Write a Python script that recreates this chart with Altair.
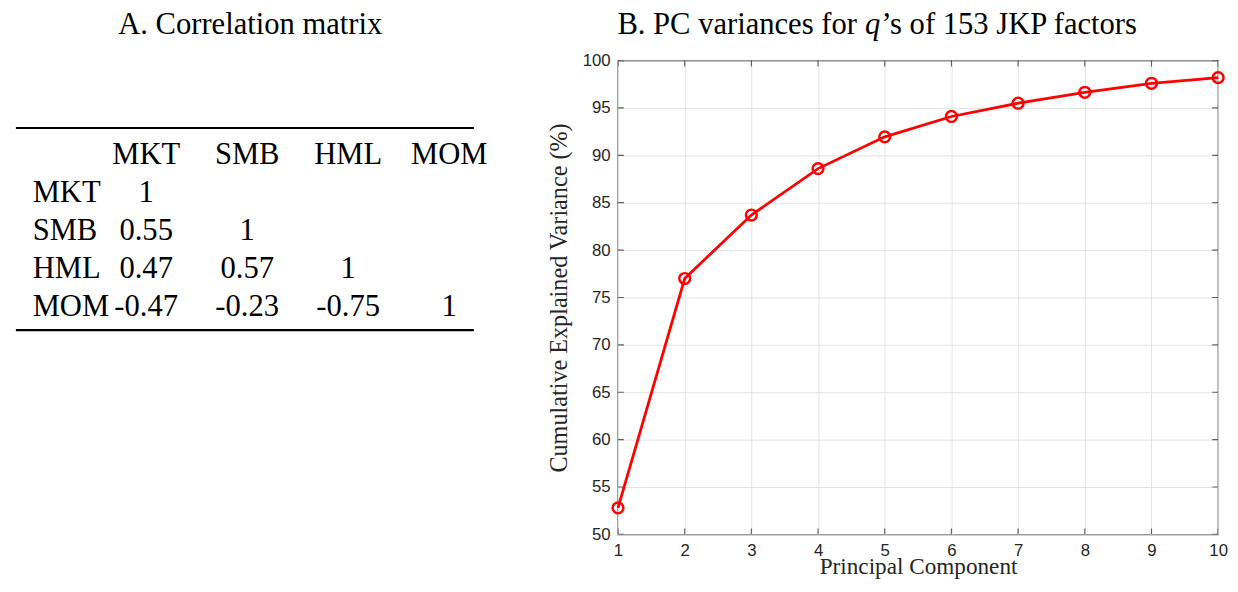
import altair as alt
import pandas as pd

# ---------------- data ----------------
pc = [1, 2, 3, 4, 5, 6, 7, 8, 9, 10]
cum_var = [52.8, 77.0, 83.7, 88.6, 91.95, 94.1, 95.5, 96.65, 97.6, 98.2]
y_ticks = [50, 55, 60, 65, 70, 75, 80, 85, 90, 95, 100]

factors = ["MKT", "SMB", "HML", "MOM"]
row_mkt = ["1", "", "", ""]
row_smb = ["0.55", "1", "", ""]
row_hml = ["0.47", "0.57", "1", ""]
row_mom = ["-0.47", "-0.23", "-0.75", "1"]

title_a = "A. Correlation matrix"
title_b_pre = "B. PC variances for"
title_b_q = "q"
title_b_post = "\u2019s of 153 JKP factors"
x_title = "Principal Component"
y_title = "Cumulative Explained Variance (%)"

SERIF = "Liberation Serif"
SANS = "Liberation Sans"
AX = "#262626"
RED = "#ff0000"
TITLE_Y = -26.5

# ---------------- table (panel A) ----------------
cells = [{"r": 0, "c": f, "t": f} for f in factors]
for i, row in enumerate([row_mkt, row_smb, row_hml, row_mom]):
    for j, v in enumerate(row):
        if v:
            cells.append({"r": i + 1, "c": factors[j], "t": v})
cells_df = pd.DataFrame(cells)
labels_df = pd.DataFrame({"r": [1, 2, 3, 4], "t": factors})

row_scale = alt.Scale(type="point", domain=[0, 1, 2, 3, 4], range=[96, 249.5], padding=0)
col_scale = alt.Scale(type="point", domain=factors, range=[132, 439], padding=0)

cell_text = alt.Chart(cells_df).mark_text(
    font=SERIF, fontSize=31, align="center", baseline="middle", color="black"
).encode(
    x=alt.X("c:N", scale=col_scale, axis=None),
    y=alt.Y("r:O", scale=row_scale, axis=None),
    text="t:N",
)
label_text = alt.Chart(labels_df).mark_text(
    font=SERIF, fontSize=31, align="left", baseline="middle", color="black"
).encode(
    x=alt.value(17),
    y=alt.Y("r:O", scale=row_scale, axis=None),
    text="t:N",
)
top_rule = alt.Chart(pd.DataFrame({"k": [0]})).mark_rule(color="black", strokeWidth=2.2).encode(
    x=alt.value(0), x2=alt.value(464), y=alt.value(68.3)
)
bot_rule = alt.Chart(pd.DataFrame({"k": [0]})).mark_rule(color="black", strokeWidth=2.2).encode(
    x=alt.value(0), x2=alt.value(464), y=alt.value(273)
)
a_title = alt.Chart(pd.DataFrame({"t": [title_a]})).mark_text(
    font=SERIF, fontSize=31, align="center", baseline="alphabetic", color="black"
).encode(x=alt.value(237.4), y=alt.value(TITLE_Y), text="t:N")

left = alt.layer(top_rule, bot_rule, cell_text, label_text, a_title).properties(
    width=480, height=480
)

# ---------------- PC variance plot (panel B) ----------------
df = pd.DataFrame({"pc": pc, "v": cum_var})
ytick_df = pd.DataFrame({"v": y_ticks})
xtick_df = pd.DataFrame({"pc": pc})

x_axis = alt.Axis(
    values=pc, title=x_title, grid=True, gridColor="#e3e3e3", ticks=False,
    labelFlush=False, format="d", labelFont=SANS, labelFontSize=17, labelColor=AX,
    labelPadding=8, titleFont=SERIF, titleFontSize=23.5, titleFontWeight="normal",
    titleColor=AX, titlePadding=-3.5, domain=False,
)
y_axis = alt.Axis(
    values=y_ticks, title=y_title, grid=True, gridColor="#e3e3e3", ticks=False,
    labelFlush=False, format="d", labelFont=SANS, labelFontSize=17, labelColor=AX,
    labelPadding=8, titleFont=SERIF, titleFontSize=24.5, titleFontWeight="normal",
    titleColor=AX, titlePadding=11.3, domain=False,
)

x_scale = alt.Scale(domain=[1, 10], nice=False, zero=False)
y_scale = alt.Scale(domain=[50, 100], nice=False, zero=False)

xe = alt.X("pc:Q", scale=x_scale, axis=x_axis)
ye = alt.Y("v:Q", scale=y_scale, axis=y_axis)

line = alt.Chart(df).mark_line(color=RED, strokeWidth=2.8).encode(x=xe, y=ye)
pts = alt.Chart(df).mark_point(
    shape="circle", filled=False, size=120, strokeWidth=2.5, color=RED, opacity=1
).encode(x=xe, y=ye)

tick_style = dict(color=AX, thickness=1.2, size=12, clip=True)
yt_left = alt.Chart(ytick_df).mark_tick(orient="horizontal", **tick_style).encode(
    y=ye, x=alt.datum(1)
)
yt_right = alt.Chart(ytick_df).mark_tick(orient="horizontal", **tick_style).encode(
    y=ye, x=alt.datum(10)
)
xt_bot = alt.Chart(xtick_df).mark_tick(orient="vertical", **tick_style).encode(
    x=xe, y=alt.datum(50)
)
xt_top = alt.Chart(xtick_df).mark_tick(orient="vertical", **tick_style).encode(
    x=xe, y=alt.datum(100)
)

tb = dict(font=SERIF, fontSize=31, baseline="alphabetic", color="black")
b_pre = alt.Chart(pd.DataFrame({"t": [title_b_pre]})).mark_text(align="right", **tb).encode(
    x=alt.value(242), y=alt.value(TITLE_Y), text="t:N"
)
b_q = alt.Chart(pd.DataFrame({"t": [title_b_q]})).mark_text(
    align="center", fontStyle="italic", **tb
).encode(x=alt.value(258), y=alt.value(TITLE_Y), text="t:N")
b_post = alt.Chart(pd.DataFrame({"t": [title_b_post]})).mark_text(align="left", **tb).encode(
    x=alt.value(267), y=alt.value(TITLE_Y), text="t:N"
)

right = alt.layer(
    yt_left, yt_right, xt_bot, xt_top, line, pts, b_pre, b_q, b_post
).properties(
    width=608, height=480,
    view=alt.ViewBackground(stroke=AX, strokeWidth=1.3),
)

chart = alt.hconcat(left, right, spacing=55).properties(
    padding={"left": 6, "top": -3.5, "right": 0, "bottom": 0}
).configure_view(stroke="transparent")

chart.save("out.html", embed_options={"renderer": "svg", "actions": False})
